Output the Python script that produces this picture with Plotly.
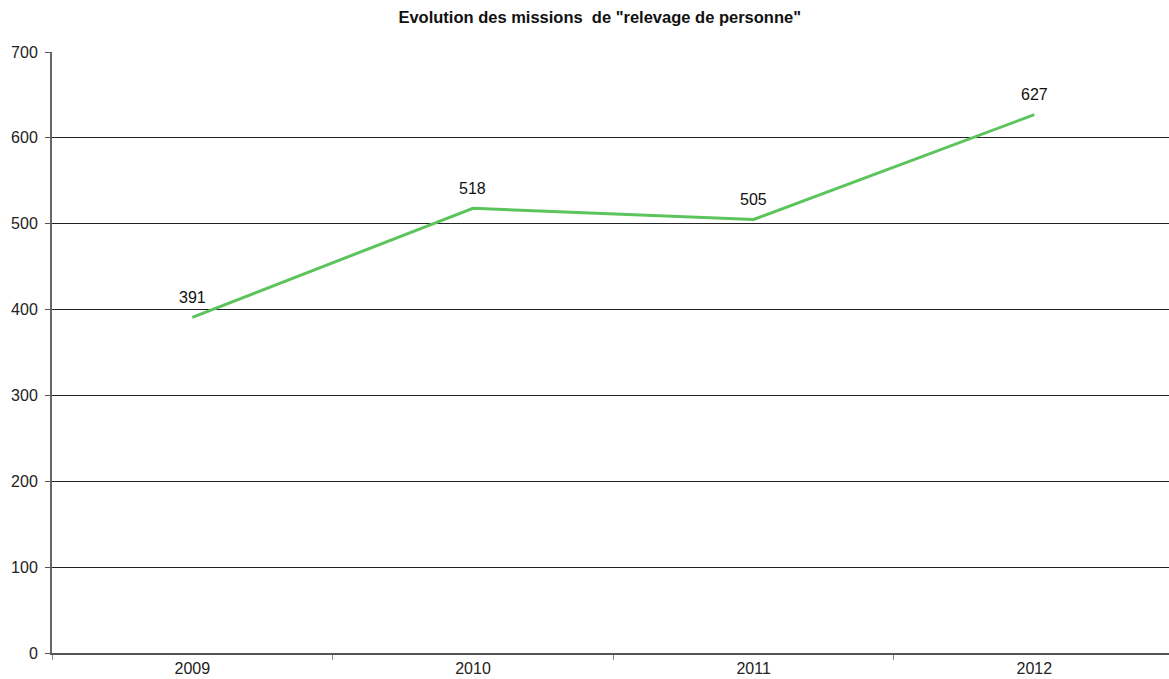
import plotly.graph_objects as go

years = ["2009", "2010", "2011", "2012"]
missions = [391, 518, 505, 627]
y_ticks = [0, 100, 200, 300, 400, 500, 600, 700]

fig = go.Figure()
fig.add_trace(go.Scatter(
    x=years, y=missions, mode="lines",
    line=dict(color="#5cc45c", width=3),
    showlegend=False,
))
for i, v in enumerate(missions):
    fig.add_annotation(x=i, y=v, text=str(v), showarrow=False,
                       yshift=20, xanchor="center", yanchor="middle",
                       font=dict(family="Liberation Sans, Arial", size=16, color="#111111"))

fig.update_layout(
    width=1169, height=679,
    margin=dict(l=52, r=0, t=52, b=26),
    paper_bgcolor="white", plot_bgcolor="white",
    title=dict(text='<b>Evolution des missions  de "relevage de personne"</b>',
               x=0.513, xanchor="center", y=0.974, yanchor="middle",
               font=dict(family="Liberation Sans, Arial", size=16.5, color="#111111")),
    font=dict(family="Liberation Sans, Arial", size=16, color="#222222"),
    xaxis=dict(type="category", range=[-0.5, 3.48], tickson="boundaries",
               ticks="outside", ticklen=5, tickcolor="#888888",
               showgrid=False, showline=True, linecolor="#555555", linewidth=2,
               tickfont=dict(size=16)),
    yaxis=dict(range=[0, 700], tickvals=y_ticks, ticks="outside", ticklen=5,
               tickcolor="#555555", showgrid=True, gridcolor="#222222", gridwidth=1,
               showline=True, linecolor="#666666", linewidth=2, zeroline=False,
               ticklabelstandoff=4, tickfont=dict(size=16)),
)

fig.write_html("out.html", config={"displayModeBar": False},
               post_script="document.body.style.margin='0';document.body.style.overflow='hidden';")
